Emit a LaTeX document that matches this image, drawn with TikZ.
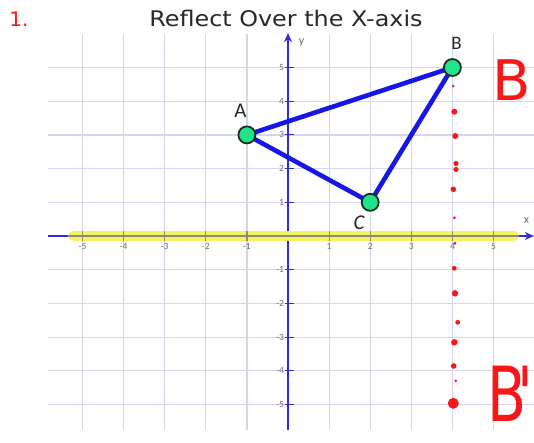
\documentclass[tikz,border=0pt]{standalone}
\usepackage{fontspec}
\setmainfont{Carlito}
\newfontfamily\penfont{DejaVu Sans}
\usetikzlibrary{arrows.meta}
\definecolor{gridc}{RGB}{212,212,246}
\definecolor{axisblue}{RGB}{45,45,225}
\definecolor{triblue}{RGB}{22,22,232}
\definecolor{ptgreen}{RGB}{32,228,140}
\definecolor{ptedge}{RGB}{25,50,30}
\definecolor{hlyellow}{RGB}{246,242,100}
\definecolor{hlaxis}{RGB}{140,140,112}
\definecolor{redpen}{RGB}{248,22,22}
\definecolor{ticklbl}{RGB}{110,110,110}
\definecolor{inkgray}{RGB}{40,40,40}
\tikzset{
  gridline/.style={gridc, line width=1.2pt},
  axisline/.style={axisblue, line width=2.2pt},
  axisarrow/.style={axisline, -{Stealth[length=9pt,width=8pt]}},
  tickmark/.style={axisblue, line width=1pt},
  hlstroke/.style={hlyellow, line width=10pt, line cap=round},
  hlthrough/.style={hlaxis, line width=1.6pt},
  tickx/.style={ticklbl, font=\fontsize{9.5}{9.5}\selectfont, inner sep=0.5pt, anchor=north},
  ticky/.style={ticklbl, font=\fontsize{9.5}{9.5}\selectfont, inner sep=0.5pt, anchor=east},
  triedge/.style={triblue, line width=4.6pt, line join=round},
  ptnode/.style={circle, fill=ptgreen, draw=ptedge, line width=1.8pt, minimum size=17pt, inner sep=0pt},
  ptlabel/.style={inkgray, font=\fontsize{21}{21}\selectfont, inner sep=0pt},
  axlabel/.style={ticklbl, font=\fontsize{12}{12}\selectfont, inner sep=0pt},
  redtext/.style={redpen, inner sep=0pt},
  reddot/.style={redpen},
}
\begin{document}
\begin{tikzpicture}[x=1pt,y=-1pt]
\useasboundingbox (0,0) rectangle (534,442);
\fill[white] (0,0) rectangle (534,442);
\node[inkgray, font=\penfont\fontsize{21.5}{21.5}\selectfont, inner sep=0pt, xscale=1.11] (title) at (286,18) {Reflect Over the X-axis};
\node[redtext, font=\penfont\fontsize{20}{20}\selectfont] (num) at (19,19) {1.};
\begin{scope}[shift={(288,236)}, x=41.1pt, y=33.7pt]
  % grid
  \foreach \i in {-5,...,5} {
    \draw[gridline] (-5.85,\i) -- (5.99,\i);
    \draw[gridline] (\i,-5.76) -- (\i,5.99);
  }
  % axes
  \coordinate (xs) at (-5.85,0);
  \coordinate (xe) at (5.98,0);
  \coordinate (ys) at (0,-5.76);
  \coordinate (ye) at (0,6.02);
  \draw[axisarrow] (xs) -- (xe);
  \draw[axisarrow] (ys) -- (ye);
  \foreach \i in {-5,-4,-3,-2,-1,1,2,3,4,5} {
    \draw[tickmark] (-0.07,\i) -- (0.14,\i);
    \node[ticky] (ty\i) at (-0.08,\i) {\i};
  }
  % highlight
  \coordinate (hs) at (-5.23,0);
  \coordinate (he) at (5.50,0);
  \draw[hlstroke] (hs) -- (he);
  \coordinate (ts) at (-5.35,0);
  \coordinate (te) at (5.62,0);
  \draw[hlthrough] (ts) -- (te);
  \foreach \i in {-5,-4,-3,-2,-1,1,2,3,4,5} {
    \draw[hlaxis, line width=1.2pt] (\i,-0.15) -- (\i,0.15);
    \node[tickx] (tx\i) at (\i,-0.2) {\i};
  }
  \node[axlabel] (xlab) at (5.80,0.45) {x};
  \node[axlabel] (ylab) at (0.33,5.75) {y};
  % triangle
  \coordinate (a) at (-1,3);
  \coordinate (b) at (4,5);
  \coordinate (c) at (2,1);
  \draw[triedge] (a) -- (b) -- (c) -- cycle;
  \node[ptnode] (A) at (a) {};
  \node[ptnode] (B) at (b) {};
  \node[ptnode] (C) at (c) {};
  \node[ptlabel] (Alab) at (-1.16,3.71) {A};
  \node[ptlabel, font=\fontsize{19}{19}\selectfont] (Blab) at (4.10,5.72) {B};
  \node[ptlabel, font=\fontsize{21}{21}\selectfont\itshape] (Clab) at (1.73,0.39) {C};
\end{scope}
% red handwritten reflection
\foreach \px/\py/\r in {453.3/86/1.4, 454.3/111.7/3, 455.3/136/3, 456/163.5/2.6, 456/169.5/2.6, 453.3/189.3/2.8, 454.3/217.7/1.5, 455/243.3/1.6, 454.3/268.3/2.4, 455/293.3/3.2, 457.7/322.3/2.4, 454.3/342.3/3.2, 453.7/366/2.8, 455.7/380.7/1.4} {
  \fill[reddot] (\px,\py) circle (\r);
}
\node[circle, fill=redpen, minimum size=11pt, inner sep=0pt] (Bpdot) at (453.3,403.3) {};
\node[redtext, font=\penfont\fontsize{56}{56}\selectfont] (Bred) at (512,80) {B};
\node[redtext, font=\penfont\fontsize{76}{76}\selectfont, anchor=west, xscale=0.75] (Bpred) at (487,394) {B\kern-0.15em\textquotesingle};
\end{tikzpicture}
\end{document}
